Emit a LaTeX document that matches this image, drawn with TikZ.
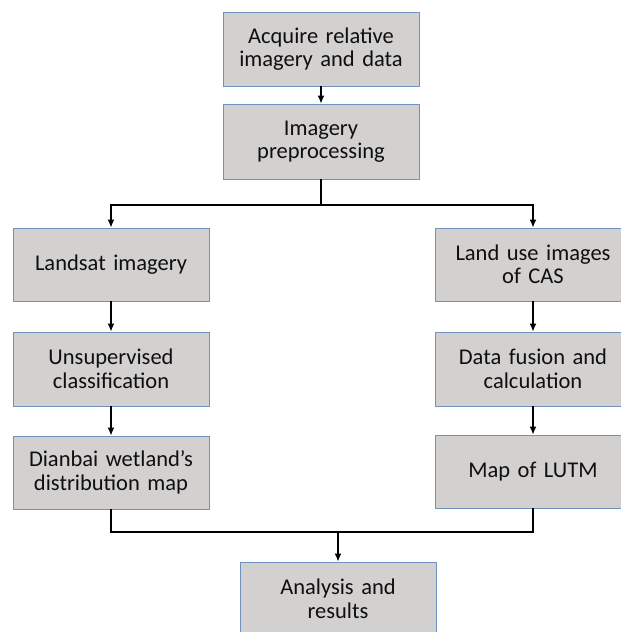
\documentclass[tikz,border=0pt]{standalone}
\usepackage{fontspec}
\setmainfont{Carlito}
\usetikzlibrary{arrows.meta}
\definecolor{boxfill}{RGB}{211,208,208}
\definecolor{boxline}{RGB}{112,146,190}
\definecolor{txt}{RGB}{15,15,15}
\tikzset{
  flowbox/.style={draw=boxline, line width=0.9pt, fill=boxfill, minimum width=196pt, text width=192pt, align=center, inner sep=0pt, text=txt, font=\fontsize{22.5}{23.5}\selectfont},
  conn/.style={line width=1.3pt, black},
  arr/.style={conn, -{Latex[length=8pt,width=7pt]}}
}
\begin{document}
\begin{tikzpicture}[x=1pt,y=-1pt]
\useasboundingbox (0,0) rectangle (621,632);
\clip (0,0) rectangle (621,632);
\node[flowbox, minimum height=74pt] (acq) at (321,49) {Acquire relative\\imagery and data};
\node[flowbox, minimum height=75pt] (pre) at (321,141.5) {Imagery\\preprocessing};
\node[flowbox, minimum height=73pt] (land) at (111,264.5) {Landsat imagery};
\node[flowbox, minimum height=74pt] (unsup) at (111,369) {Unsupervised\\classification};
\node[flowbox, minimum height=73pt] (dian) at (111,472.5) {Dianbai wetland’s\\distribution map};
\node[flowbox, minimum height=73pt] (luse) at (533,264.5) {Land use images\\of CAS};
\node[flowbox, minimum height=74pt] (fus) at (533,369) {Data fusion and\\calculation};
\node[flowbox, minimum height=73pt] (lutm) at (533,471.5) {Map of LUTM};
\node[flowbox, minimum height=74pt] (ana) at (338,599) {Analysis and\\results};
\coordinate (split) at (321,205);
\coordinate (merge) at (338,532);
\draw[arr] (acq) -- (pre);
\draw[conn] (pre.south) -- (split);
\draw[arr] (split) -| (land.north);
\draw[arr] (split) -| (luse.north);
\draw[arr] (land) -- (unsup);
\draw[arr] (unsup) -- (dian);
\draw[arr] (luse) -- (fus);
\draw[arr] (fus) -- (lutm);
\draw[conn] (dian.south) |- (merge) -| (lutm.south);
\draw[arr] (merge) -- (ana.north);
\end{tikzpicture}
\end{document}
